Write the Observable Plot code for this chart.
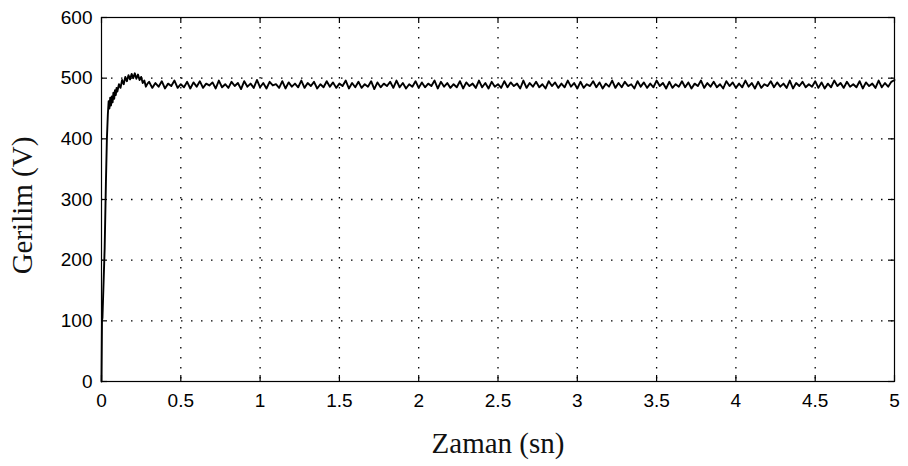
<!DOCTYPE html>
<html>
<head>
<meta charset="utf-8">
<script src="https://cdn.jsdelivr.net/npm/d3@7"></script>
<script src="https://cdn.jsdelivr.net/npm/@observablehq/plot@0.6"></script>
<style>
  html, body { margin: 0; padding: 0; background: #fff; }
  #chart svg { display: block; }
</style>
</head>
<body>
<div id="chart"></div>
<script>
// ---- data ----
const xTicks = [0, 0.5, 1, 1.5, 2, 2.5, 3, 3.5, 4, 4.5, 5];
const xTickLabels = ["0", "0.5", "1", "1.5", "2", "2.5", "3", "3.5", "4", "4.5", "5"];
const yTicks = [0, 100, 200, 300, 400, 500, 600];
const yTickLabels = ["0", "100", "200", "300", "400", "500", "600"];
const xLabel = "Zaman (sn)";
const yLabel = "Gerilim (V)";

// start-up transient (time s, voltage V)
const transientT = [0, 0.003, 0.006, 0.02, 0.028, 0.034, 0.04, 0.045, 0.05, 0.055, 0.06, 0.065, 0.07, 0.075, 0.08, 0.085, 0.09, 0.095, 0.10, 0.11, 0.12, 0.13, 0.14, 0.15, 0.16, 0.17, 0.18, 0.19, 0.20, 0.21, 0.22, 0.23, 0.24, 0.25, 0.26, 0.27, 0.28, 0.29];
const transientV = [0, 100, 105, 220, 330, 400, 440, 462, 450, 468, 455, 470, 460, 476, 466, 480, 472, 484, 478, 490, 484, 497, 490, 502, 495, 505, 498, 507, 500, 508, 499, 506, 497, 502, 492, 496, 486, 491];

// steady-state ripple, sampled every 0.02 s from 0.30 s to 5.00 s
const steadyStart = 0.30;
const steadyStep = 0.02;
const steadyV = [
  494,484,492,486,495,483,491,487,496,484,490,485,494,483,493,486,495,484,491,488,
  493,483,496,485,490,484,494,487,492,482,495,486,491,484,497,485,492,483,494,488,
  490,484,495,483,493,486,491,485,496,484,492,487,494,483,490,485,495,486,493,484,
  491,487,496,483,492,485,494,484,490,486,495,482,493,485,491,487,494,484,496,485,
  492,483,490,486,495,484,493,485,491,487,496,483,494,486,492,484,490,485,495,483,
  493,487,491,484,496,485,492,483,494,486,490,484,495,485,493,487,491,483,496,484,
  492,486,494,485,490,483,495,487,493,484,491,485,496,486,492,483,494,484,490,487,
  495,485,493,483,491,486,496,484,492,485,494,487,490,483,495,486,493,484,491,485,
  496,487,492,483,494,484,490,486,495,485,493,483,491,487,496,484,492,486,494,485,
  490,483,495,487,493,484,491,485,496,486,492,483,494,484,490,487,495,485,493,486,
  491,484,496,483,492,487,494,485,490,486,495,484,493,483,491,485,496,487,492,484,
  494,486,490,485,495,483,493,487,491,484,496,485,492,486,494,497
];

// ---- build table ----
const series = transientT.map((t, i) => ({t, v: transientV[i]}))
  .concat(steadyV.map((v, i) => ({t: +(steadyStart + i * steadyStep).toFixed(4), v})));

const innerGridX = xTicks.slice(1, -1);
const innerGridY = yTicks.slice(1, -1);

const W = 908, H = 466;
const mL = 101, mR = 14, mT = 17, mB = 85;
const frameW = W - mL - mR, frameH = H - mT - mB;
const tickLen = 6;

const chart = Plot.plot({
  width: W,
  height: H,
  marginLeft: mL,
  marginRight: mR,
  marginTop: mT,
  marginBottom: mB,
  style: {background: "#fff", color: "#000", fontFamily: "Liberation Sans, Arial, sans-serif"},
  x: {domain: [0, 5]},
  y: {domain: [0, 600]},
  marks: [
    Plot.ruleX(innerGridX, {stroke: "#000", strokeWidth: 1.3, strokeDasharray: "1.5,8.5"}),
    Plot.ruleY(innerGridY, {stroke: "#000", strokeWidth: 1.3, strokeDasharray: "1.5,8.5"}),
    Plot.line(series, {x: "t", y: "v", stroke: "#000", strokeWidth: 1.9, curve: "linear"}),
    Plot.frame({stroke: "#000", strokeWidth: 1.2}),
    // inward ticks on all four sides
    Plot.tickX(xTicks, {stroke: "#000", strokeWidth: 1.2, insetTop: frameH - tickLen}),
    Plot.tickX(xTicks, {stroke: "#000", strokeWidth: 1.2, insetBottom: frameH - tickLen}),
    Plot.tickY(yTicks, {stroke: "#000", strokeWidth: 1.2, insetRight: frameW - tickLen}),
    Plot.tickY(yTicks, {stroke: "#000", strokeWidth: 1.2, insetLeft: frameW - tickLen}),
    Plot.axisX(xTicks, {tickSize: 0, tickPadding: 12, fontSize: 19, tickFormat: (d, i) => xTickLabels[i], label: null}),
    Plot.axisY(yTicks, {tickSize: 0, tickPadding: 9, fontSize: 19, tickFormat: (d, i) => yTickLabels[i], label: null}),
    Plot.text([xLabel], {frameAnchor: "bottom", dy: 62, textAnchor: "middle", lineAnchor: "middle", fontFamily: "Liberation Serif, Times New Roman, serif", fontSize: 29, fill: "#111"}),
    Plot.text([yLabel], {frameAnchor: "left", dx: -79, dy: 6, textAnchor: "middle", lineAnchor: "middle", rotate: -90, fontFamily: "Liberation Serif, Times New Roman, serif", fontSize: 29, fill: "#111"})
  ]
});
document.getElementById("chart").appendChild(chart);
</script>
</body>
</html>
